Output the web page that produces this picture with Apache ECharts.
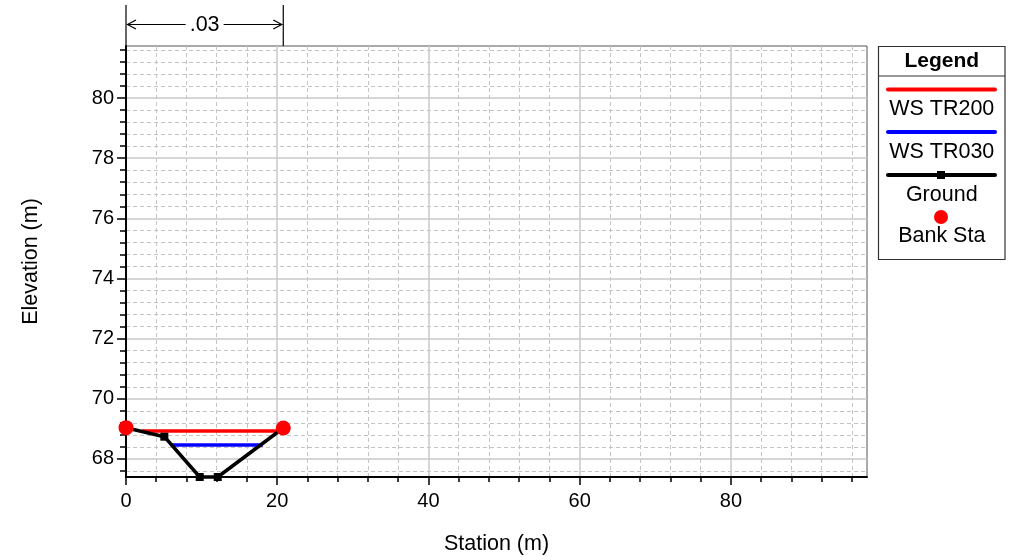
<!DOCTYPE html>
<html>
<head>
<meta charset="utf-8">
<script src="https://cdn.jsdelivr.net/npm/echarts@6/dist/echarts.min.js"></script>
<style>
html,body{margin:0;padding:0;background:#fff;}
#c{width:1014px;height:560px;}
</style>
</head>
<body>
<div id="c"></div>
<script>
// ---- data ----
var groundX = [0, 5.07, 9.75, 12.13, 20.8];
var groundY = [69.04, 68.74, 67.4, 67.4, 69.03];
var bankX = [0, 20.8];
var bankY = [69.04, 69.03];
var wsTR200X = [2.1, 20.6];
var wsTR200Y = [68.93, 68.93];
var wsTR030X = [5.9, 18.1];
var wsTR030Y = [68.46, 68.46];
var manningN = ['.03'];
var manningX = [0, 20.8];
var legendNames = ['WS TR200', 'WS TR030', 'Ground', 'Bank Sta'];
var xRange = [0, 98];
var yRange = [67.4, 81.73];
var xMajorTicks = [0, 20, 40, 60, 80];
var yMajorTicks = [68, 70, 72, 74, 76, 78, 80];
var xMinorStep = 4;
var yMinorStep = 0.4;

function pairs(xs, ys) { return xs.map(function (x, i) { return [x, ys[i]]; }); }
function minorValues(lo, hi, step, majors) {
  var out = [];
  var k0 = Math.ceil(lo / step - 1e-9), k1 = Math.floor(hi / step + 1e-9);
  for (var k = k0; k <= k1; k++) {
    var v = Math.round(k * step * 1000) / 1000;
    if (v <= lo + 1e-9 || v >= hi - 1e-9) continue;
    if (majors.some(function (m) { return Math.abs(m - v) < 1e-6; })) continue;
    out.push(v);
  }
  return out;
}
var xMinorTicks = minorValues(xRange[0], xRange[1], xMinorStep, xMajorTicks);
var yMinorTicks = minorValues(yRange[0], yRange[1], yMinorStep, yMajorTicks);

var FONT = 'Liberation Sans, Arial, Helvetica, sans-serif';
var chart = echarts.init(document.getElementById('c'), null, {renderer: 'canvas'});

var dashed = {color: '#c4c4c4', width: 1, type: [4, 3]};
var solid = {color: '#c8c8c8', width: 1.5};

var option = {
  animation: false,
  backgroundColor: '#fff',
  grid: {left: 126, right: 147, top: 46, bottom: 81, show: true, borderColor: '#555', borderWidth: 1, backgroundColor: 'transparent'},
  xAxis: [
    { // major
      type: 'value', position: 'bottom', min: xRange[0], max: xRange[1], interval: 20, z: 2,
      name: 'Station (m)', nameLocation: 'middle', nameGap: 56,
      nameTextStyle: {fontFamily: FONT, fontSize: 21.5, color: '#000'},
      axisLine: {show: true, onZero: false, lineStyle: {color: '#000', width: 2}},
      axisTick: {show: true, length: 8, customValues: xMajorTicks, lineStyle: {color: '#000', width: 1.5}},
      axisLabel: {fontFamily: FONT, fontSize: 20, color: '#000', margin: 14, customValues: xMajorTicks},
      splitLine: {show: true, lineStyle: solid}
    },
    { // minor
      type: 'value', position: 'bottom', min: xRange[0], max: xRange[1], interval: xMinorStep, z: 1,
      axisLine: {show: false, onZero: false},
      axisTick: {show: true, length: 5, customValues: xMinorTicks, lineStyle: {color: '#000', width: 1.5}},
      axisLabel: {show: false},
      splitLine: {show: true, lineStyle: dashed}
    }
  ],
  yAxis: [
    { // major
      type: 'value', position: 'left', min: yRange[0], max: yRange[1], minInterval: 2, maxInterval: 2, z: 2,
      name: 'Elevation (m)', nameLocation: 'middle', nameGap: 84,
      nameTextStyle: {fontFamily: FONT, fontSize: 21.5, color: '#000'},
      axisLine: {show: true, onZero: false, lineStyle: {color: '#000', width: 2}},
      axisTick: {show: true, length: 9, customValues: yMajorTicks, lineStyle: {color: '#000', width: 1.5}},
      axisLabel: {fontFamily: FONT, fontSize: 20, color: '#000', margin: 12, customValues: yMajorTicks, padding: [5, 0, 0, 0]},
      splitLine: {show: true, lineStyle: solid}
    },
    { // minor
      type: 'value', position: 'left', min: yRange[0], max: yRange[1], minInterval: yMinorStep, maxInterval: yMinorStep, z: 1,
      axisLine: {show: false, onZero: false},
      axisTick: {show: true, length: 6, customValues: yMinorTicks, lineStyle: {color: '#000', width: 1.5}},
      axisLabel: {show: false},
      splitLine: {show: true, lineStyle: dashed}
    }
  ],
  series: [
    {name: legendNames[0], type: 'line', xAxisIndex: 0, yAxisIndex: 0, data: pairs(wsTR200X, wsTR200Y), showSymbol: false, symbol: 'none',
      lineStyle: {color: '#ff0000', width: 3.5}, z: 2},
    {name: legendNames[1], type: 'line', xAxisIndex: 0, yAxisIndex: 0, data: pairs(wsTR030X, wsTR030Y), showSymbol: false, symbol: 'none',
      lineStyle: {color: '#0000ff', width: 3.5}, z: 2},
    {name: legendNames[2], type: 'line', xAxisIndex: 0, yAxisIndex: 0, data: pairs(groundX, groundY), symbol: 'rect', symbolSize: 8,
      itemStyle: {color: '#000'}, lineStyle: {color: '#000', width: 3.5}, z: 3, clip: false},
    {name: legendNames[3], type: 'scatter', xAxisIndex: 0, yAxisIndex: 0, data: pairs(bankX, bankY), symbol: 'circle', symbolSize: 15,
      itemStyle: {color: '#ff0000', opacity: 1}, z: 5, clip: false}
  ]
};
chart.setOption(option);

// ---- annotation & legend built from library scale ----
var x0 = chart.convertToPixel({xAxisIndex: 0}, manningX[0]);
var x1 = chart.convertToPixel({xAxisIndex: 0}, manningX[1]);
var topY = chart.convertToPixel({yAxisIndex: 0}, yRange[1]);
var ay = 24.5;
var xc = (x0 + x1) / 2;
var g = [];
var blk = {stroke: '#000', lineWidth: 1.2};
g.push({type: 'line', shape: {x1: x0, y1: 5, x2: x0, y2: topY}, style: blk, silent: true});
g.push({type: 'line', shape: {x1: x1, y1: 5, x2: x1, y2: topY}, style: blk, silent: true});
g.push({type: 'line', shape: {x1: x0 + 1, y1: ay, x2: xc - 19, y2: ay}, style: blk, silent: true});
g.push({type: 'line', shape: {x1: xc + 19, y1: ay, x2: x1 - 1, y2: ay}, style: blk, silent: true});
g.push({type: 'polyline', shape: {points: [[x0 + 10, ay - 4.5], [x0 + 1.5, ay], [x0 + 10, ay + 4.5]]}, style: {stroke: '#000', lineWidth: 1.2, fill: null}, silent: true});
g.push({type: 'polyline', shape: {points: [[x1 - 10, ay - 4.5], [x1 - 1.5, ay], [x1 - 10, ay + 4.5]]}, style: {stroke: '#000', lineWidth: 1.2, fill: null}, silent: true});
g.push({type: 'text', style: {text: manningN[0], x: xc, y: ay + 1, align: 'center', verticalAlign: 'middle', fontFamily: FONT, fontSize: 21.5, fill: '#000'}, silent: true});

// legend box
var L = 878.5, R = 1005, T = 46.5, B = 259.5, cx = (L + R) / 2;
g.push({type: 'rect', shape: {x: L, y: T, width: R - L, height: B - T}, style: {fill: '#fff', stroke: '#333', lineWidth: 1.2}, silent: true});
g.push({type: 'line', shape: {x1: L, y1: 76, x2: R, y2: 76}, style: {stroke: '#333', lineWidth: 1.2}, silent: true});
g.push({type: 'text', style: {text: 'Legend', x: cx, y: 61, align: 'center', verticalAlign: 'middle', fontFamily: FONT, fontSize: 21, fontWeight: 'bold', fill: '#000'}, silent: true});
var sx1 = 888, sx2 = 995;
g.push({type: 'line', shape: {x1: sx1, y1: 89.5, x2: sx2, y2: 89.5}, style: {stroke: '#ff0000', lineWidth: 4, lineCap: 'round'}, silent: true});
g.push({type: 'text', style: {text: legendNames[0], x: cx, y: 109, align: 'center', verticalAlign: 'middle', fontFamily: FONT, fontSize: 21.5, fill: '#000'}, silent: true});
g.push({type: 'line', shape: {x1: sx1, y1: 132, x2: sx2, y2: 132}, style: {stroke: '#0000ff', lineWidth: 4, lineCap: 'round'}, silent: true});
g.push({type: 'text', style: {text: legendNames[1], x: cx, y: 152, align: 'center', verticalAlign: 'middle', fontFamily: FONT, fontSize: 21.5, fill: '#000'}, silent: true});
g.push({type: 'line', shape: {x1: sx1, y1: 175, x2: sx2, y2: 175}, style: {stroke: '#000', lineWidth: 4, lineCap: 'round'}, silent: true});
g.push({type: 'rect', shape: {x: 937, y: 171, width: 8, height: 8}, style: {fill: '#000'}, silent: true});
g.push({type: 'text', style: {text: legendNames[2], x: cx, y: 195, align: 'center', verticalAlign: 'middle', fontFamily: FONT, fontSize: 21.5, fill: '#000'}, silent: true});
g.push({type: 'circle', shape: {cx: 941, cy: 217, r: 7}, style: {fill: '#ff0000'}, silent: true});
g.push({type: 'text', style: {text: legendNames[3], x: cx, y: 236, align: 'center', verticalAlign: 'middle', fontFamily: FONT, fontSize: 21.5, fill: '#000'}, silent: true});

chart.setOption({graphic: g});
</script>
</body>
</html>
